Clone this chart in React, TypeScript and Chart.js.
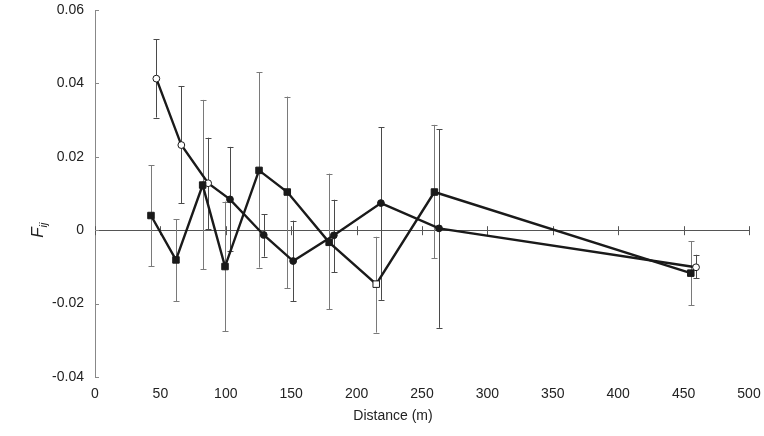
import React, { useEffect, useRef } from "react";
import { Chart, registerables } from "chart.js";

Chart.register(...registerables);

// Series A (squares)
const squareX = [42.8, 61.9, 82.3, 99.4, 125.4, 147, 179, 215, 259.5, 455.5];
const squareY = [0.004, -0.0081, 0.0123, -0.0099, 0.0163, 0.0104, -0.0033, -0.0147, 0.0104, -0.0117];
const squareLo = [-0.0098, -0.0193, -0.0106, -0.0276, -0.0102, -0.0158, -0.0215, -0.0279, -0.0077, -0.0205];
const squareHi = [0.0177, 0.003, 0.0355, 0.0078, 0.0431, 0.0364, 0.0154, -0.0018, 0.0287, -0.003];
const squareHollow = [false, false, false, false, false, false, false, true, false, false];

// Series B (circles)
const circleX = [46.9, 66, 86.5, 103.2, 129, 151.5, 182.6, 218.6, 263, 459.5];
const circleY = [0.0413, 0.0232, 0.0128, 0.0084, -0.0013, -0.0084, -0.0014, 0.0074, 0.0005, -0.0101];
const circleLo = [0.0307, 0.0073, 0.0002, -0.0057, -0.0072, -0.0193, -0.0114, -0.019, -0.0266, -0.0131];
const circleHi = [0.052, 0.0393, 0.0252, 0.0227, 0.0044, 0.0026, 0.0083, 0.028, 0.0275, -0.0067];
const circleHollow = [true, true, true, false, false, false, false, false, false, true];

const xTicks = [0, 50, 100, 150, 200, 250, 300, 350, 400, 450, 500];
const yTicks = [-0.04, -0.02, 0, 0.02, 0.04, 0.06];
const xTitle = "Distance (m)";

const FONT = "'Liberation Sans', Arial, sans-serif";

export default function App() {
  const ref = useRef<HTMLCanvasElement>(null);

  useEffect(() => {
    if (!ref.current) return;

    const errorPlugin = {
      id: "errbars",
      beforeDatasetsDraw(chart: any) {
        const ctx = chart.ctx;
        const xs = chart.scales.x;
        const ys = chart.scales.y;
        const area = chart.chartArea;
        ctx.save();
        // zero line with crossing ticks
        const y0 = ys.getPixelForValue(0);
        ctx.strokeStyle = "#555";
        ctx.lineWidth = 1;
        ctx.beginPath();
        ctx.moveTo(area.left, Math.round(y0) + 0.5);
        ctx.lineTo(area.right, Math.round(y0) + 0.5);
        xTicks.forEach((t) => {
          const px = Math.round(xs.getPixelForValue(t)) + 0.5;
          ctx.moveTo(px, y0 - 4);
          ctx.lineTo(px, y0 + 5);
        });
        ctx.stroke();
        // y axis inward ticks
        ctx.strokeStyle = "#888";
        ctx.beginPath();
        yTicks.forEach((t) => {
          const py = Math.round(ys.getPixelForValue(t)) + 0.5;
          ctx.moveTo(area.left, py);
          ctx.lineTo(area.left + 4, py);
        });
        ctx.stroke();
        // error bars
        const drawBars = (xv: number[], lo: number[], hi: number[], color: string) => {
          ctx.strokeStyle = color;
          ctx.lineWidth = 1;
          ctx.beginPath();
          xv.forEach((x, i) => {
            const px = Math.round(xs.getPixelForValue(x)) + 0.5;
            const pl = ys.getPixelForValue(lo[i]);
            const ph = ys.getPixelForValue(hi[i]);
            ctx.moveTo(px, pl);
            ctx.lineTo(px, ph);
            ctx.moveTo(px - 3, Math.round(pl) + 0.5);
            ctx.lineTo(px + 3, Math.round(pl) + 0.5);
            ctx.moveTo(px - 3, Math.round(ph) + 0.5);
            ctx.lineTo(px + 3, Math.round(ph) + 0.5);
          });
          ctx.stroke();
        };
        drawBars(squareX, squareLo, squareHi, "#7a7a7a");
        drawBars(circleX, circleLo, circleHi, "#4a4a4a");
        ctx.restore();
      },
      afterDraw(chart: any) {
        const ctx = chart.ctx;
        const ys = chart.scales.y;
        const cy = ys.getPixelForValue(0);
        ctx.save();
        // x title
        ctx.fillStyle = "#222";
        ctx.font = "14px " + FONT;
        ctx.textAlign = "center";
        ctx.textBaseline = "middle";
        ctx.fillText(xTitle, 393, 416);
        // y title
        ctx.textAlign = "left";
        ctx.textBaseline = "alphabetic";
        ctx.translate(43, cy);
        ctx.rotate(-Math.PI / 2);
        ctx.font = "italic 17px " + FONT;
        const wF = ctx.measureText("F").width;
        ctx.font = "italic 11px " + FONT;
        const wS = ctx.measureText("ij").width;
        const start = -(wF + wS) / 2;
        ctx.font = "italic 17px " + FONT;
        ctx.fillText("F", start, 0);
        ctx.font = "italic 11px " + FONT;
        ctx.fillText("ij", start + wF, 4);
        ctx.restore();
      },
    };

    const chart = new Chart(ref.current, {
      type: "scatter",
      data: {
        datasets: [
          {
            label: "squares",
            data: squareX.map((x, i) => ({ x, y: squareY[i] })),
            showLine: true,
            borderColor: "#1a1a1a",
            borderWidth: 2.4,
            pointStyle: "rect",
            pointRadius: 4.6,
            pointBorderWidth: 1,
            pointBorderColor: "#1a1a1a",
            pointBackgroundColor: squareHollow.map((h) => (h ? "#ffffff" : "#1a1a1a")),
          },
          {
            label: "circles",
            data: circleX.map((x, i) => ({ x, y: circleY[i] })),
            showLine: true,
            borderColor: "#1a1a1a",
            borderWidth: 2.4,
            pointStyle: "circle",
            pointRadius: 3.4,
            pointBorderWidth: 1,
            pointBorderColor: "#1a1a1a",
            pointBackgroundColor: circleHollow.map((h) => (h ? "#ffffff" : "#1a1a1a")),
          },
        ],
      },
      options: {
        animation: false,
        responsive: false,
        maintainAspectRatio: false,
        layout: { padding: { left: 0, right: 15, top: 10, bottom: 0 } },
        plugins: { legend: { display: false }, tooltip: { enabled: false } },
        scales: {
          x: {
            type: "linear",
            min: 0,
            max: 500,
            afterBuildTicks: (s: any) => {
              s.ticks = xTicks.map((v) => ({ value: v }));
            },
            afterFit: (s: any) => {
              s.height = 59;
              s.paddingLeft = 0;
              s.paddingRight = 0;
            },
            grid: { display: false, drawTicks: false },
            border: { display: false },
            ticks: {
              color: "#222",
              font: { family: FONT, size: 14 },
              padding: 9,
              maxRotation: 0,
              autoSkip: false,
            },
          },
          y: {
            type: "linear",
            min: -0.04,
            max: 0.06,
            afterBuildTicks: (s: any) => {
              s.ticks = yTicks.map((v) => ({ value: v }));
            },
            afterFit: (s: any) => {
              s.width = 95;
              s.paddingTop = 0;
              s.paddingBottom = 0;
            },
            grid: { display: false, drawTicks: false },
            border: { display: true, color: "#888", width: 1 },
            ticks: {
              color: "#222",
              font: { family: FONT, size: 14 },
              padding: 11,
              callback: (v: any) => String(Math.round(Number(v) * 100) / 100),
            },
          },
        },
      },
      plugins: [errorPlugin],
    });

    return () => chart.destroy();
  }, []);

  return (
    <div style={{ position: "fixed", left: 0, top: 0, width: 764, height: 436 }}>
      <canvas ref={ref} width={764} height={436} style={{ width: 764, height: 436, display: "block" }} />
    </div>
  );
}
